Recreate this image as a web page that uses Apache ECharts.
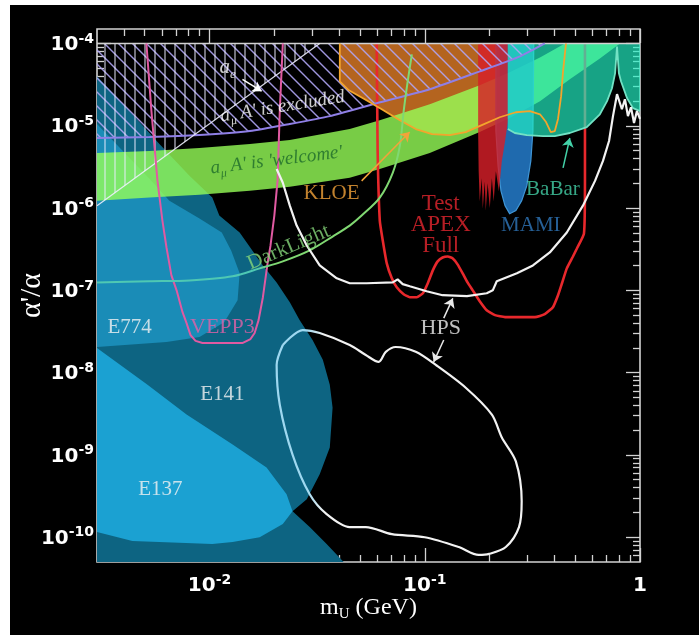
<!DOCTYPE html>
<html><head><meta charset="utf-8">
<script src="https://cdn.jsdelivr.net/npm/echarts@6.0.0/dist/echarts.min.js"></script>
<style>
html,body{margin:0;padding:0;background:#fff;}
#c{position:absolute;left:10px;top:5px;width:689px;height:630px;background:#000;}
</style></head><body><div id="c"></div>
<script>
// ---------- axis extents / ticks ----------
const xMin = 0.003, xMax = 1;
const yMin = 5e-11, yMax = 1.5e-4;
const yTop = 1e-4;
const xMajor = [0.01, 0.1, 1];
const yMajor = [1e-10, 1e-9, 1e-8, 1e-7, 1e-6, 1e-5, 1e-4];

// ---------- regions (m in GeV, alpha'/alpha) ----------
const e141Edge = [[0.003,4.0e-5],[0.00425,1.51e-5],[0.00585,6.0e-6],[0.00807,2.47e-6],[0.0103,1.34e-6],[0.0111,8.1e-7],[0.0138,5.05e-7],[0.0177,2.01e-7],[0.0205,1.25e-7],[0.0236,7.18e-8],[0.0262,4.35e-8],[0.0301,2.49e-8],[0.0336,1.43e-8],[0.0362,7.13e-9],[0.0373,3.75e-9],[0.0362,1.23e-9],[0.0325,5.81e-10],[0.0283,2.9e-10],[0.0243,2.07e-10],[0.0292,1.33e-10],[0.035,8.28e-11],[0.042,5e-11]];
const e774Edge = [[0.003,1.05e-5],[0.00425,4.07e-6],[0.00526,2.27e-6],[0.00651,1.23e-6],[0.00898,7.45e-7],[0.0114,5.05e-7],[0.0126,3.06e-7],[0.0138,1.61e-7],[0.0135,7.59e-8],[0.0117,4.11e-8],[0.00898,2.71e-8],[0.00631,2.36e-8],[0.003,2.05e-8]];
const e137Edge = [[0.003,2.0e-8],[0.00515,7.13e-9],[0.00782,3.09e-9],[0.0128,1.34e-9],[0.0184,7.06e-10],[0.0228,3.33e-10],[0.0243,2.07e-10],[0.0219,1.45e-10],[0.0171,1.0e-10],[0.0128,8.75e-11],[0.0103,8.28e-11],[0.00438,9.0e-11],[0.003,1.16e-10]];
const amuBandTop = [[0.003,4.68e-6],[0.00526,4.94e-6],[0.00898,5.37e-6],[0.0154,6.01e-6],[0.0236,6.71e-6],[0.0448,9.12e-6],[0.0618,1.17e-5],[0.1055,1.83e-5],[0.18,3.1e-5],[0.248,4.46e-5],[0.343,6.77e-5],[0.448,1e-4]];
const amuBandBottom = [[0.003,1.23e-6],[0.00526,1.34e-6],[0.00898,1.45e-6],[0.0154,1.62e-6],[0.0236,1.81e-6],[0.0448,2.33e-6],[0.0618,2.99e-6],[0.1055,4.68e-6],[0.18,8.39e-6],[0.248,1.24e-5],[0.343,1.99e-5],[0.472,3.67e-5],[0.651,6.59e-5],[0.807,1e-4]];
const amuExclEdge = [[0.003,7.1e-6],[0.00526,7.3e-6],[0.00898,7.72e-6],[0.0154,8.63e-6],[0.0236,1.05e-5],[0.0362,1.31e-5],[0.0598,1.88e-5],[0.1055,2.78e-5],[0.18,4.58e-5],[0.277,6.97e-5],[0.361,1e-4]];
const aeEdge = [[0.003,1.07e-6],[0.0325,1e-4]];
const kloeEdge = [[0.0403,1e-4],[0.0403,3.47e-5],[0.0444,2.7e-5],[0.0526,2.1e-5],[0.0631,1.59e-5],[0.0766,1.17e-5],[0.0908,9.12e-6],[0.108,7.94e-6],[0.1307,7.72e-6],[0.155,8.39e-6],[0.184,1.02e-5],[0.223,1.27e-5],[0.265,1.46e-5],[0.308,1.51e-5],[0.343,1.38e-5],[0.366,1.11e-5],[0.385,8.39e-6],[0.402,8.63e-6],[0.416,1.21e-5],[0.43,2.29e-5],[0.439,4.58e-5],[0.453,1e-4]];
const testApex = [[0.177,1e-4],[0.177,8.6e-6],[0.178,2.8e-6],[0.180,1.2e-6],[0.184,2.3e-6],[0.186,9.8e-7],[0.190,2.1e-6],[0.192,9.3e-7],[0.196,2.0e-6],[0.2005,1.0e-6],[0.205,2.3e-6],[0.209,1.2e-6],[0.214,2.8e-6],[0.221,1.6e-6],[0.228,3.7e-6],[0.236,6.5e-6],[0.243,1.1e-5],[0.243,1e-4]];
const mamiEdge = [[0.214,1e-4],[0.214,8.63e-6],[0.219,3.26e-6],[0.226,1.62e-6],[0.236,1.07e-6],[0.248,8.55e-7],[0.265,9.3e-7],[0.282,1.23e-6],[0.298,1.87e-6],[0.311,3.74e-6],[0.318,8.63e-6],[0.321,1e-4]];
const babarEdge = [[0.243,9.12e-6],[0.262,8.17e-6],[0.298,7.72e-6],[0.354,7.5e-6],[0.402,7.5e-6],[0.472,8.17e-6],[0.566,9.64e-6],[0.651,1.38e-5],[0.703,1.99e-5],[0.741,2.86e-5],[0.766,4.34e-5],[0.782,9.2e-5],[0.798,4.34e-5],[0.816,3.47e-5],[0.871,2.16e-5],[0.928,1.64e-5],[1,1.51e-5]];

// ---------- curves ----------
const vepp3 = [[5.09e-3,1e-4],[5.37e-3,1.51e-5],[5.73e-3,2.14e-6],[6.04e-3,7.05e-7],[6.31e-3,3.32e-7],[6.65e-3,1.52e-7],[7.03e-3,1.0e-7],[7.49e-3,5.43e-8],[7.82e-3,4.0e-8],[8.16e-3,2.86e-8],[8.61e-3,2.43e-8],[9.27e-3,2.29e-8],[1.42e-2,2.29e-8],[1.55e-2,2.56e-8],[1.62e-2,3.03e-8],[1.69e-2,4.35e-8],[1.77e-2,8.26e-8],[1.86e-2,2.13e-7],[1.92e-2,3.51e-7],[2.0e-2,8.1e-7],[2.07e-2,2.14e-6],[2.12e-2,1.51e-5],[2.19e-2,1e-4]];
const darkLight = [[0.003,1.25e-7],[0.00526,1.29e-7],[0.00807,1.32e-7],[0.0128,1.48e-7],[0.0171,1.85e-7],[0.0219,2.25e-7],[0.0292,3.06e-7],[0.0373,4.51e-7],[0.0448,6.12e-7],[0.0509,8.1e-7],[0.0618,1.34e-6],[0.071,2.68e-6],[0.0766,5.69e-6],[0.0798,1.51e-5],[0.0833,3.47e-5],[0.0871,7.36e-5]];
const hpsUpper = [[0.0205,2.99e-6],[0.0219,2.03e-6],[0.0236,1.07e-6],[0.0254,6.12e-7],[0.0283,3.51e-7],[0.0325,2.01e-7],[0.039,1.4e-7],[0.0448,1.22e-7],[0.0537,1.22e-7],[0.071,1.25e-7],[0.0748,1.36e-7],[0.079,1.19e-7],[0.0852,1.12e-7],[0.102,9.75e-8],[0.121,8.73e-8],[0.157,8.49e-8],[0.194,9.23e-8],[0.207,1.0e-7],[0.216,1.29e-7],[0.268,1.61e-7],[0.318,2.01e-7],[0.381,2.89e-7],[0.457,5.05e-7],[0.543,1.07e-6],[0.618,2.14e-6],[0.673,3.74e-6],[0.718,6.53e-6],[0.749,1.31e-5],[0.782,2.42e-5],[0.807,1.88e-5],[0.824,1.59e-5],[0.851,2.1e-5],[0.879,1.31e-5],[0.908,1.68e-5],[0.938,1.08e-5],[0.968,1.51e-5],[1,1.21e-5]];
const hpsLoop = [[0.0219,2.17e-8],[0.0271,3.29e-8],[0.0325,3.03e-8],[0.0448,2.17e-8],[0.0532,1.64e-8],[0.0611,1.35e-8],[0.0659,1.79e-8],[0.0733,2.05e-8],[0.0908,1.79e-8],[0.1125,1.24e-8],[0.155,6.55e-9],[0.205,3.09e-9],[0.228,1.63e-9],[0.265,8.34e-10],[0.282,2.74e-10],[0.274,1.33e-10],[0.238,7.6e-11],[0.199,6.27e-11],[0.178,6.1e-11],[0.144,7.6e-11],[0.1,1.0e-10],[0.0703,1.09e-10],[0.0532,1.33e-10],[0.0448,1.33e-10],[0.035,1.91e-10],[0.0292,3.33e-10],[0.0243,1.01e-9],[0.0212,4.08e-9],[0.0205,1.24e-8]];
const apexFull = [[0.0598,1e-4],[0.0604,4.94e-6],[0.0618,7.05e-7],[0.0638,4.04e-7],[0.0666,2.13e-7],[0.0703,1.4e-7],[0.0741,1.09e-7],[0.0798,8.98e-8],[0.0852,8.26e-8],[0.0918,8.26e-8],[0.098,9.23e-8],[0.1033,1.22e-7],[0.109,1.75e-7],[0.1148,2.25e-7],[0.121,2.51e-7],[0.128,2.58e-7],[0.135,2.44e-7],[0.142,2.07e-7],[0.15,1.61e-7],[0.158,1.25e-7],[0.167,1.0e-7],[0.18,7.38e-8],[0.194,5.74e-8],[0.212,5.0e-8],[0.236,4.73e-8],[0.277,4.73e-8],[0.325,4.73e-8],[0.361,5.14e-8],[0.394,6.25e-8],[0.416,8.73e-8],[0.434,1.22e-7],[0.457,1.85e-7],[0.488,2.58e-7],[0.509,3.23e-7],[0.549,4.9e-7],[0.555,2.14e-6],[0.555,1e-4]];

// ---------- annotations ----------
const labelAnchors = [
  ['ae',[0.01213,4.85e-5]],['amuExcl',[0.0219,1.64e-5]],['amuWelcome',[0.0205,3.64e-6]],
  ['KLOE',[0.0369,1.49e-6]],['DarkLight',[0.0233,3.32e-7]],['VEPP3',[0.01148,3.58e-8]],
  ['E774',[0.00425,3.58e-8]],['E141',[0.01148,5.4e-9]],['E137',[0.00591,3.83e-10]],
  ['APEX',[0.1186,6.3e-7]],['MAMI',[0.311,6.12e-7]],['BaBar',[0.394,1.67e-6]],['HPS',[0.1186,3.48e-8]]
];
const arrowEnds = [
  ['ae',[0.01422,3.67e-5],[0.01746,2.63e-5]],
  ['KLOE',[0.0509,2.14e-6],[0.0851,8.39e-6]],
  ['BaBar',[0.439,3.08e-6],[0.472,7.1e-6]],
  ['HPS',[0.1225,4.6e-8],[0.135,8.0e-8]],
  ['HPS',[0.1225,2.49e-8],[0.110,1.35e-8]]
];

// ---------- helpers ----------
const L = Math.log10;
const toL = pts => pts.map(p => [L(p[0]), L(p[1])]);
const lx0 = L(xMin), lx1 = L(xMax), ly0 = L(yMin), ly1 = L(yMax);
const SERIF = "'Liberation Serif','Times New Roman',serif";
const SANS = "'DejaVu Sans',sans-serif";
const frameColor = '#d2d2d2';

function minors(lo, hi) {
  const out = [];
  for (let k = Math.floor(lo) - 1; k <= Math.ceil(hi); k++)
    for (let d = 2; d <= 9; d++) { const v = k + Math.log10(d); if (v > lo && v < hi) out.push(v); }
  return out;
}
function pattern(kind, color, size, w) {
  const c = document.createElement('canvas'); c.width = size; c.height = size;
  const g = c.getContext('2d'); g.strokeStyle = color; g.lineWidth = w; g.beginPath();
  if (kind === 'v') { g.moveTo(size/2, 0); g.lineTo(size/2, size); }
  else { g.moveTo(-1,-1); g.lineTo(size+1,size+1); g.moveTo(-1,size-1); g.lineTo(1,size+1); g.moveTo(size-1,-1); g.lineTo(size+1,1); }
  g.stroke();
  return { image: c, repeat: 'repeat' };
}
function area(name, pts, style, z) {
  const d = toL(pts);
  return { type:'custom', name, z, silent:true, clip:true, animation:false, data:d,
    renderItem(params, api) {
      if (params.dataIndex !== 0) return null;
      return { type:'polygon', shape:{ points: d.map(p => api.coord(p)) }, style };
    } };
}
function curve(name, pts, color, width, z, extra) {
  return Object.assign({ type:'line', name, z, silent:true, animation:false, data: toL(pts),
    showSymbol:false, symbol:'none', lineStyle:{ color, width } }, extra || {});
}
const grad = (stops) => new echarts.graphic.LinearGradient(0,0,1,0, stops.map(s => ({offset:s[0], color:s[1]})));

// ---------- axes ----------
const expRich = {
  b:{ fontFamily:SANS, fontWeight:'bold', fontSize:20, color:'#fff', lineHeight:23, verticalAlign:'bottom' },
  s:{ fontFamily:SANS, fontWeight:'bold', fontSize:14, color:'#fff', lineHeight:13, verticalAlign:'top' }
};
const expFmt = v => { const n = Math.round(v); return n === 0 ? '{b|1}' : '{b|10}{s|' + n + '}'; };
const xMajL = xMajor.map(L), yMajL = yMajor.map(L);
function ax(dim, pos, vals, len, label) {
  const a = { type:'value', min: dim==='x'?lx0:ly0, max: dim==='x'?lx1:ly1, position:pos,
    axisLine:{ show:false, onZero:false }, splitLine:{ show:false },
    axisTick:{ show:true, inside:true, length:len, customValues:vals, lineStyle:{ color:frameColor, width:1.3 } },
    axisLabel:{ show:false } };
  if (label) Object.assign(a, label);
  return a;
}
const xAxes = [
  ax('x','bottom',xMajL,14,{ axisLabel:{ show:true, customValues:xMajL, formatter:expFmt, rich:expRich, margin:11 },
    name:'{m|m}{u|U}{g| (GeV)}', nameLocation:'middle', nameGap:34, nameMoveOverlap:false,
    nameTextStyle:{ rich:{ m:{fontFamily:SERIF,fontSize:24,color:'#fff',lineHeight:26,verticalAlign:'top'},
      u:{fontFamily:SERIF,fontSize:15,color:'#fff',lineHeight:12,verticalAlign:'bottom'},
      g:{fontFamily:SERIF,fontSize:24,color:'#fff',lineHeight:26,verticalAlign:'top'} } } }),
  ax('x','bottom',minors(lx0,lx1),7),
  ax('x','top',xMajL,14),
  ax('x','top',minors(lx0,lx1),7)
];
const yAxes = [
  ax('y','left',yMajL,14,{ axisLabel:{ show:true, customValues:yMajL, formatter:expFmt, rich:expRich, margin:3 },
    name:"α'/α", nameLocation:'middle', nameGap:50, nameRotate:90, nameMoveOverlap:false,
    nameTextStyle:{ fontFamily:SERIF, fontSize:30, color:'#fff' } }),
  ax('y','left',minors(ly0,ly1),7),
  ax('y','right',yMajL,14),
  ax('y','right',minors(ly0,ly1),7)
];

// ---------- series ----------
const series = [];
series.push(area('E141', e141Edge.concat([[xMin,yMin]]), { fill:'#0d6482' }, 1));
series.push(area('E774', e774Edge, { fill:'#1a8cb7' }, 1));
series.push(area('E137', e137Edge, { fill:'#1ba1d2' }, 1));
series.push(area('KLOE', kloeEdge.filter(p => p[0] < 0.25).concat([[0.223, yTop]]), { fill:'#b4641f' }, 2));
series.push(area('amuBand', amuBandTop.concat(amuBandBottom.slice().reverse()), { fill:'rgba(150,255,88,0.8)' }, 3));
series.push(area('MAMI', mamiEdge, { fill:'rgba(36,124,205,0.85)', stroke:'#3f95d6', lineWidth:1.2 }, 4));
series.push(area('Test', testApex, { fill:'rgba(215,30,40,0.82)' }, 4));
series.push(curve('APEX Full', apexFull, '#e8282c', 2.6, 5, { smooth:0.15 }));
series.push(area('BaBar', babarEdge.concat([[xMax,yTop],[babarEdge[0][0],yTop]]), { fill:'rgba(34,240,196,0.68)' }, 6));
series.push(area('amuExcl', amuExclEdge.concat([[xMin,yTop]]), { fill: pattern('d','rgba(175,165,245,0.9)',14,1.4) }, 7));
series.push(area('ae', aeEdge.concat([[xMin,yTop]]), { fill: pattern('v','rgba(235,235,255,0.75)',10,1.3) }, 7));
series.push(curve('limit', [[xMin,yTop],[xMax,yTop]], frameColor, 1.5, 8));
series.push(curve('amuExclLine', amuExclEdge, '#8f7fe6', 2, 8, { smooth:0.2 }));
series.push(curve('aeLine', aeEdge, 'rgba(240,240,255,0.9)', 1.2, 8));
series.push(curve('KLOE line', kloeEdge, '#f3a52c', 1.8, 8));
series.push(curve('BaBar line', babarEdge, '#72e2c4', 1.8, 8));
series.push(curve('VEPP3', vepp3, '#e05aa2', 2, 8));
series.push(curve('DarkLight', darkLight, grad([[0,'#4ec8b3'],[0.5,'#4ec8b3'],[0.56,'#80d872'],[1,'#80d872']]), 2, 8, { smooth:0.3 }));
series.push(curve('HPS', hpsUpper, '#f2f2f2', 2.2, 8));
series.push(curve('HPS loop', hpsLoop.concat([hpsLoop[0]]), grad([[0,'#9ed8f0'],[0.13,'#9ed8f0'],[0.2,'#f2f2f2'],[1,'#f2f2f2']]), 2.2, 8, { smooth:0.3 }));

const labelDefs = {
  ae:{ fmt:'{i|a}{s|e}', color:'#fff', size:21, italic:true },
  amuExcl:{ fmt:"{i|a}{s|μ}{i| A' is excluded}", color:'#fff', size:19, italic:true, rot:9 },
  amuWelcome:{ fmt:"{i|a}{s|μ}{i| A' is 'welcome'}", color:'#1d6a2b', size:19, italic:true, rot:7 },
  KLOE:{ fmt:'KLOE', color:'#f2a33a', size:21 },
  DarkLight:{ fmt:'DarkLight', color:'#86d77a', size:21, rot:23 },
  VEPP3:{ fmt:'VEPP3', color:'#e262a8', size:22 },
  E774:{ fmt:'E774', color:'#f2f2f2', size:21 },
  E141:{ fmt:'E141', color:'#f2f2f2', size:21 },
  E137:{ fmt:'E137', color:'#f2f2f2', size:21 },
  APEX:{ fmt:'Test\nAPEX\nFull', color:'#e3262e', size:23, lh:21 },
  MAMI:{ fmt:'MAMI', color:'#2f78bd', size:21 },
  BaBar:{ fmt:'BaBar', color:'#43d1a8', size:21 },
  HPS:{ fmt:'HPS', color:'#f0f0f0', size:22 }
};
series.push({ type:'scatter', z:9, silent:true, animation:false, symbolSize:1, itemStyle:{ color:'rgba(0,0,0,0)' },
  data: labelAnchors.map(([k, p]) => {
    const d = labelDefs[k];
    const lab = { show:true, position:'inside', formatter:() => d.fmt, color:d.color, fontSize:d.size,
      fontFamily:SERIF, rotate:d.rot || 0, align:'center', verticalAlign:'middle', lineHeight:d.lh || d.size + 2 };
    if (d.italic) lab.rich = {
      i:{ fontFamily:SERIF, fontStyle:'italic', fontSize:d.size, color:d.color, lineHeight:d.size+3, verticalAlign:'top' },
      s:{ fontFamily:SERIF, fontStyle:'italic', fontSize:Math.round(d.size*0.62), color:d.color, lineHeight:10, verticalAlign:'bottom' } };
    return { value:[L(p[0]), L(p[1])], label:lab };
  }) });
const arrowColor = { ae:'#ffffff', KLOE:'#f2a33a', BaBar:'#43d1a8', HPS:'#e8e8e8' };
series.push({ type:'lines', coordinateSystem:'cartesian2d', z:9, silent:true, animation:false,
  symbol:['none','arrow'], symbolSize:9,
  data: arrowEnds.map(([k, a, b]) => ({ coords:[[L(a[0]),L(a[1])],[L(b[0]),L(b[1])]],
    lineStyle:{ color:arrowColor[k], width:1.5, opacity:1 } })) });

const chart = echarts.init(document.getElementById('c'));
chart.setOption({
  animation:false,
  backgroundColor:'#000',
  grid:{ left:87, right:59, top:24, bottom:73, show:true, borderColor:frameColor, borderWidth:1.6,
    containLabel:false, outerBoundsMode:'none' },
  xAxis:xAxes, yAxis:yAxes, series
});
</script></body></html>
